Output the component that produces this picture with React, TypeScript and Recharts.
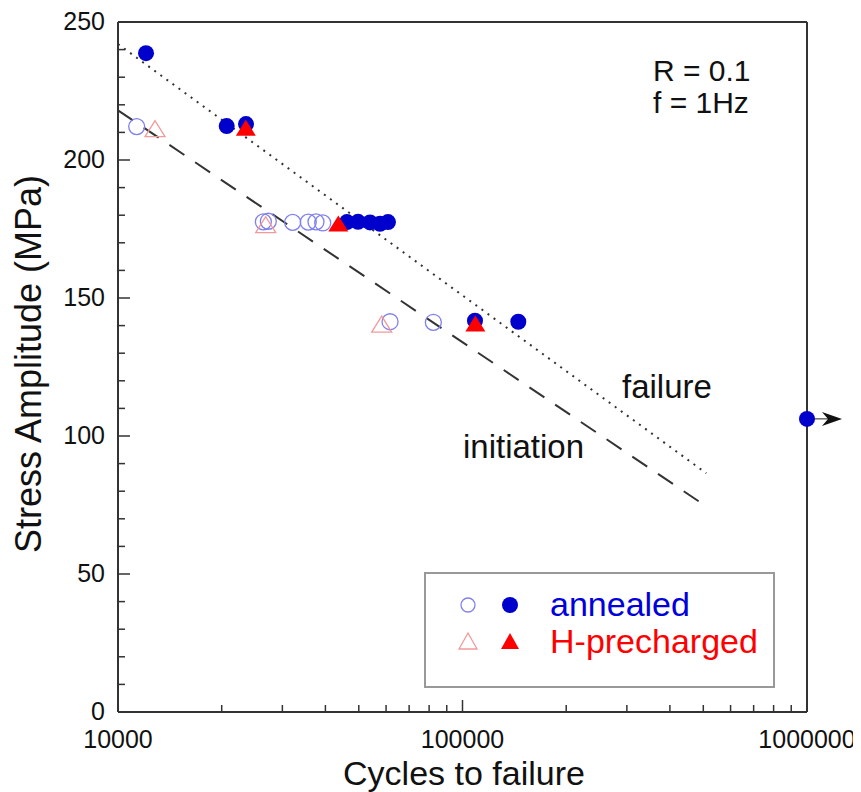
import { ReferenceLine, Scatter, ScatterChart, XAxis, YAxis } from "recharts";

// cycles to failure (n) vs stress amplitude in MPa (s)
const annealedFilled = [
  { n: 12060, s: 238.7 },
  { n: 20680, s: 212.3 },
  { n: 23530, s: 213 },
  { n: 46200, s: 177.5 },
  { n: 49740, s: 177.6 },
  { n: 53890, s: 177.4 },
  { n: 57620, s: 176.9 },
  { n: 60770, s: 177.5 },
  { n: 108700, s: 141.8 },
  { n: 145200, s: 141.4 },
];
const annealedRunout = [{ n: 1000000, s: 106.2 }];
const annealedOpen = [
  { n: 11330, s: 212.1 },
  { n: 26420, s: 177.6 },
  { n: 27310, s: 177.8 },
  { n: 32140, s: 177.4 },
  { n: 35670, s: 177.5 },
  { n: 37560, s: 177.6 },
  { n: 39290, s: 177.2 },
  { n: 61610, s: 141.4 },
  { n: 82290, s: 141.2 },
];
const hOpen = [
  { n: 12810, s: 211 },
  { n: 26840, s: 176.2 },
  { n: 58270, s: 140.2 },
];
const hFilled = [
  { n: 23500, s: 211.3 },
  { n: 43600, s: 176.6 },
  { n: 109000, s: 140.4 },
];
const failureFit = [
  { n: 10000, s: 242 },
  { n: 510000, s: 86.5 },
];
const initiationFit = [
  { n: 10000, s: 218 },
  { n: 510000, s: 74.5 },
];

const xTicks = [
  10000, 20000, 30000, 40000, 50000, 60000, 70000, 80000, 90000, 100000,
  200000, 300000, 400000, 500000, 600000, 700000, 800000, 900000, 1000000,
];
const xMajor = [10000, 100000, 1000000];
const yTicks = [
  0, 10, 20, 30, 40, 50, 60, 70, 80, 90, 100, 110, 120, 130, 140, 150, 160,
  170, 180, 190, 200, 210, 220, 230, 240, 250,
];
const yMajor = [0, 50, 100, 150, 200, 250];

const W = 853;
const H = 784;
const FONT = "'Liberation Sans', Arial, Helvetica, sans-serif";
const AXIS = "#333";
const BLUE = "#0000cc";
const BLUE_LIGHT = "#8080ee";
const RED = "#ff0000";
const RED_LIGHT = "#f29a9a";
const MAJOR = 12;
const MINOR = 7;

const axisLine = { stroke: AXIS, strokeWidth: 2 };

function BottomTick(props: any) {
  const { x, y, payload } = props;
  const major = xMajor.includes(payload.value);
  return (
    <g>
      <line x1={x} x2={x} y1={y} y2={y - (major ? MAJOR : MINOR)} stroke={AXIS} strokeWidth={1.5} />
      {major && (
        <text x={x} y={y + 36} textAnchor="middle" fontSize={25} fontFamily={FONT} fill="#111">
          {payload.value}
        </text>
      )}
    </g>
  );
}

function TopTick(props: any) {
  const { x, y, payload } = props;
  const major = xMajor.includes(payload.value);
  return <line x1={x} x2={x} y1={y} y2={y + (major ? MAJOR : MINOR)} stroke={AXIS} strokeWidth={1.5} />;
}

function LeftTick(props: any) {
  const { x, y, payload } = props;
  const major = yMajor.includes(payload.value);
  return (
    <g>
      <line x1={x} x2={x + (major ? MAJOR : MINOR)} y1={y} y2={y} stroke={AXIS} strokeWidth={1.5} />
      {major && (
        <text x={x - 13} y={y + 8} textAnchor="end" fontSize={25} fontFamily={FONT} fill="#111">
          {payload.value}
        </text>
      )}
    </g>
  );
}

function RightTick(props: any) {
  const { x, y, payload } = props;
  const major = yMajor.includes(payload.value);
  return <line x1={x} x2={x - (major ? MAJOR : MINOR)} y1={y} y2={y} stroke={AXIS} strokeWidth={1.5} />;
}

const tri = (cx: number, cy: number, w = 10) =>
  `${cx},${cy - 9} ${cx - w},${cy + 7} ${cx + w},${cy + 7}`;

const OpenCircle = (p: any) => (
  <circle cx={p.cx} cy={p.cy} r={8} fill="none" stroke={BLUE_LIGHT} strokeWidth={1.3} />
);
const FilledCircle = (p: any) => <circle cx={p.cx} cy={p.cy} r={8} fill={BLUE} />;
const OpenTri = (p: any) => (
  <polygon points={tri(p.cx, p.cy)} fill="none" stroke={RED_LIGHT} strokeWidth={1.3} />
);
const FilledTri = (p: any) => <polygon points={tri(p.cx, p.cy)} fill={RED} />;
const Runout = (p: any) => (
  <g>
    <line x1={p.cx} x2={p.cx + 22} y1={p.cy} y2={p.cy} stroke="#222" strokeWidth={1} />
    <polygon
      points={`${p.cx + 35},${p.cy} ${p.cx + 15},${p.cy - 7} ${p.cx + 21},${p.cy} ${p.cx + 15},${p.cy + 7}`}
      fill="#111"
    />
    <circle cx={p.cx} cy={p.cy} r={8} fill={BLUE} />
  </g>
);

const seg = (pts: { n: number; s: number }[]) => pts.map((p) => ({ x: p.n, y: p.s }));

export default function App() {
  return (
    <div style={{ position: "relative", width: W, height: H, fontFamily: FONT }}>
      <ScatterChart width={W} height={H} margin={{ top: 13, right: 53, bottom: 0, left: 0 }}>
        <XAxis
          xAxisId="b"
          dataKey="n"
          type="number"
          scale="log"
          domain={[10000, 1000000]}
          ticks={xTicks}
          interval={0}
          tick={<BottomTick />}
          tickLine={false}
          tickSize={0}
          tickMargin={0}
          height={80}
          axisLine={axisLine}
        />
        <XAxis
          xAxisId="t"
          orientation="top"
          dataKey="n"
          type="number"
          scale="log"
          domain={[10000, 1000000]}
          ticks={xTicks}
          interval={0}
          tick={<TopTick />}
          tickLine={false}
          tickSize={0}
          tickMargin={0}
          height={1}
          axisLine={axisLine}
        />
        <YAxis
          yAxisId="l"
          dataKey="s"
          type="number"
          domain={[0, 250]}
          ticks={yTicks}
          interval={0}
          tick={<LeftTick />}
          tickLine={false}
          tickSize={0}
          tickMargin={0}
          width={110}
          axisLine={axisLine}
        />
        <YAxis
          yAxisId="r"
          orientation="right"
          dataKey="s"
          type="number"
          domain={[0, 250]}
          ticks={yTicks}
          interval={0}
          tick={<RightTick />}
          tickLine={false}
          tickSize={0}
          tickMargin={0}
          width={1}
          axisLine={axisLine}
        />
        <ReferenceLine
          xAxisId="b"
          yAxisId="l"
          segment={seg(failureFit)}
          stroke="#333"
          strokeWidth={2}
          strokeDasharray="2 5.5"
          ifOverflow="visible"
        />
        <ReferenceLine
          xAxisId="b"
          yAxisId="l"
          segment={seg(initiationFit)}
          stroke="#333"
          strokeWidth={2}
          strokeDasharray="18 13"
          ifOverflow="visible"
        />
        <Scatter xAxisId="b" yAxisId="l" data={annealedOpen} shape={OpenCircle} isAnimationActive={false} />
        <Scatter xAxisId="b" yAxisId="l" data={annealedFilled} shape={FilledCircle} isAnimationActive={false} />
        <Scatter xAxisId="b" yAxisId="l" data={annealedRunout} shape={Runout} isAnimationActive={false} />
        <Scatter xAxisId="b" yAxisId="l" data={hOpen} shape={OpenTri} isAnimationActive={false} />
        <Scatter xAxisId="b" yAxisId="l" data={hFilled} shape={FilledTri} isAnimationActive={false} />
      </ScatterChart>

      <svg
        width={W}
        height={H}
        style={{ position: "absolute", left: 0, top: 0, pointerEvents: "none" }}
        fontFamily={FONT}
      >
        <text x={645} y={73} fontSize={30} fill="#111">R = 0.1</text>
        <text x={645} y={105} fontSize={30} fill="#111">f = 1Hz</text>
        <text x={614} y={390} fontSize={33} fill="#111">failure</text>
        <text x={455} y={450} fontSize={33} fill="#111">initiation</text>
        <text x={456} y={777} fontSize={34} textAnchor="middle" fill="#111">
          Cycles to failure
        </text>
        <text x={33} y={356} fontSize={36} textAnchor="middle" fill="#111" transform="rotate(-90 33 356)">
          Stress Amplitude (MPa)
        </text>

        <rect x={417} y={565} width={349} height={114} fill="#fff" stroke="#999" strokeWidth={2} />
        <circle cx={460} cy={597} r={7} fill="none" stroke={BLUE_LIGHT} strokeWidth={1.3} />
        <circle cx={502} cy={597} r={8} fill={BLUE} />
        <polygon points={tri(460, 634, 9)} fill="none" stroke={RED_LIGHT} strokeWidth={1.3} />
        <polygon points={tri(502, 634, 9)} fill={RED} />
        <text x={542} y={608} fontSize={34} fill="#0000dd">annealed</text>
        <text x={542} y={645} fontSize={34} fill={RED}>H-precharged</text>
      </svg>
    </div>
  );
}
